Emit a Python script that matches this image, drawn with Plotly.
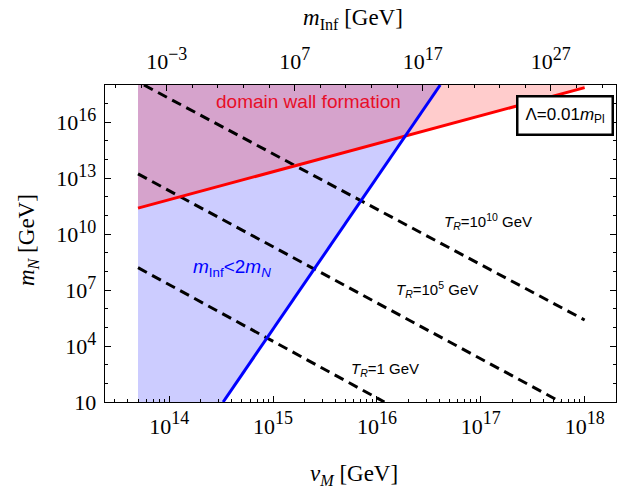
import plotly.graph_objects as go

# ---------------- data ----------------
# plot frame in log10 units
x_range_log = [13.381, 18.302]      # v_M
y_range_log = [1.0, 18.0]           # m_N
x2_range_log = [-7.82, 32.09]       # m_Inf (top axis)

# domain wall formation boundary (red line)
red_v = [5e13, 1e18]
red_m = [2.5e11, 7.2e17]

# m_Inf = 2 m_N boundary (blue line)
blue_v = [3.3e14, 4.07e16]
blue_m = [10.0, 1e18]

# left edge of the shaded regions
v_min_shade = 5e13
m_top = 1e18
m_bottom = 10.0

# T_R dashed lines: endpoints
tr1_v = [5e13, 1.18e16]
tr1_m = [1.6e8, 10.0]
tr5_v = [5e13, 5.9e17]
tr5_m = [1.7e13, 10.0]
tr10_v = [5.7e13, 1e18]
tr10_m = [1e18, 2.5e5]

x_tick_vals = [1e14, 1e15, 1e16, 1e17, 1e18]
x_tick_exp = ["14", "15", "16", "17", "18"]
y_tick_vals = [1e1, 1e4, 1e7, 1e10, 1e13, 1e16]
y_tick_exp = ["", "4", "7", "10", "13", "16"]
x2_tick_vals = [1e-3, 1e7, 1e17, 1e27]
x2_tick_exp = ["-3", "7", "17", "27"]

# ---------------- figure ----------------
W, H = 621, 493
L, R, T, B = 105, 5, 85, 91

SERIF = "Liberation Serif, Times New Roman, serif"
SANS = "Liberation Sans, Arial, sans-serif"


def pow_label(e, sup=18):
    if e == "":
        return "10"
    e = e.replace("-", "\u2212")
    return f"10<sup><span style='font-size:{sup}px'>{e}</span></sup>"


def px_x(px):
    return (px - L) / (W - L - R)


def px_y(py):
    return (H - B - py) / (H - T - B)


fig = go.Figure()

# blue region: m_Inf < 2 m_N (left of the blue line)
fig.add_trace(go.Scatter(
    x=[v_min_shade, blue_v[0], blue_v[1], v_min_shade, v_min_shade],
    y=[m_bottom, blue_m[0], blue_m[1], m_top, m_bottom],
    fill="toself", fillcolor="rgba(0,0,255,0.2)", mode="none",
    hoverinfo="skip", showlegend=False))

# red region: above the red line
fig.add_trace(go.Scatter(
    x=[red_v[0], red_v[1], red_v[1], red_v[0], red_v[0]],
    y=[red_m[0], red_m[1], m_top, m_top, red_m[0]],
    fill="toself", fillcolor="rgba(255,0,0,0.2)", mode="none",
    hoverinfo="skip", showlegend=False))

# dashed T_R lines
for xs, ys in [(tr1_v, tr1_m), (tr5_v, tr5_m), (tr10_v, tr10_m)]:
    fig.add_trace(go.Scatter(
        x=xs, y=ys, mode="lines",
        line=dict(color="black", width=3, dash="10px,6px"),
        hoverinfo="skip", showlegend=False))

# red and blue boundary lines
fig.add_trace(go.Scatter(x=red_v, y=red_m, mode="lines",
                         line=dict(color="rgb(255,0,0)", width=3),
                         hoverinfo="skip", showlegend=False))
fig.add_trace(go.Scatter(x=blue_v, y=blue_m, mode="lines",
                         line=dict(color="rgb(0,0,255)", width=3),
                         hoverinfo="skip", showlegend=False))

# invisible trace to carry the top axis
fig.add_trace(go.Scatter(x=[1e5], y=[1e5], xaxis="x2", mode="markers",
                         marker=dict(opacity=0), hoverinfo="skip",
                         showlegend=False))

x_minor = [k * 10 ** n for n in range(13, 19) for k in range(2, 10)]
y_minor = [10 ** n for n in range(1, 19) if n % 3 != 1]
x2_minor = [10.0 ** n for n in range(-7, 33, 2)]

axis_common = dict(showgrid=False, zeroline=False, showline=True,
                   linecolor="black", linewidth=1.3, ticks="inside",
                   tickcolor="black", tickwidth=1, ticklen=6,
                   tickfont=dict(family=SERIF, size=22, color="black"))

fig.update_layout(
    width=W, height=H,
    margin=dict(l=L, r=R, t=T, b=B),
    paper_bgcolor="white", plot_bgcolor="white",
    hovermode=False,
    xaxis=dict(type="log", range=x_range_log, tickmode="array",
               tickvals=x_tick_vals,
               ticktext=[pow_label(e) for e in x_tick_exp],
               minor=dict(tickmode="array", tickvals=x_minor, ticks="inside",
                          ticklen=3, tickcolor="black", tickwidth=1),
               mirror=False, ticklabelstandoff=4, **axis_common),
    xaxis2=dict(type="log", range=x2_range_log, overlaying="x", side="top",
                tickmode="array", tickvals=x2_tick_vals,
                ticktext=[pow_label(e) for e in x2_tick_exp],
                minor=dict(tickmode="array", tickvals=x2_minor, ticks="inside",
                           ticklen=3, tickcolor="black", tickwidth=1),
                anchor="y", ticklabelstandoff=6, **axis_common),
    yaxis=dict(type="log", range=y_range_log, tickmode="array",
               tickvals=y_tick_vals,
               ticktext=[pow_label(e) for e in y_tick_exp],
               minor=dict(tickmode="array", tickvals=y_minor, ticks="inside",
                          ticklen=3, tickcolor="black", tickwidth=1),
               mirror="ticks", ticklabelstandoff=3, **axis_common),
)

ann = []
common_anchor = dict(xanchor="center", yanchor="middle", showarrow=False)
# axis titles
ann.append(dict(xref="paper", yref="paper", x=px_x(354), y=px_y(475),
                text="<i>v</i><sub><i>M</i></sub> [GeV]",
                font=dict(family=SERIF, size=23, color="black"),
                **common_anchor))
ann.append(dict(xref="paper", yref="paper", x=px_x(353), y=px_y(19),
                text="<i>m</i><sub>Inf</sub> [GeV]",
                font=dict(family=SERIF, size=23, color="black"),
                **common_anchor))
ann.append(dict(xref="paper", yref="paper", x=px_x(28), y=px_y(240),
                textangle=-90,
                text="<i>m</i><sub><i>N</i></sub> [GeV]",
                font=dict(family=SERIF, size=23, color="black"),
                **common_anchor))

# in-plot labels (x, y in log10 units)
ann.append(dict(x=15.338, y=17.105, text="domain wall formation",
                font=dict(family=SANS, size=19, color="rgb(232,14,40)"),
                **common_anchor))
ann.append(dict(x=14.603, y=8.19,
                text="<i>m</i><sub>Inf</sub>&lt;2<i>m</i><sub><i>N</i></sub>",
                font=dict(family=SANS, size=19, color="rgb(0,0,255)"),
                **common_anchor))
ann.append(dict(x=17.07, y=10.67,
                text="<i>T</i><sub><i>R</i></sub>=10<sup>10</sup> GeV",
                font=dict(family=SANS, size=15, color="black"),
                **common_anchor))
ann.append(dict(x=16.576, y=7.01,
                text="<i>T</i><sub><i>R</i></sub>=10<sup>5</sup> GeV",
                font=dict(family=SANS, size=15, color="black"),
                **common_anchor))
ann.append(dict(x=16.079, y=2.72,
                text="<i>T</i><sub><i>R</i></sub>=1 GeV",
                font=dict(family=SANS, size=15, color="black"),
                **common_anchor))
# Lambda box
ann.append(dict(xref="paper", yref="paper", x=px_x(564.5), y=px_y(116),
                text="\u039b=0.01<i>m</i><sub>Pl</sub>",
                bordercolor="black", borderwidth=2.5, borderpad=7,
                bgcolor="white",
                font=dict(family=SANS, size=17, color="black"),
                **common_anchor))

fig.update_layout(annotations=ann)

# remove the default page margin so the figure sits at the window's origin
fig.write_html("out.html",
               config={"displayModeBar": False, "staticPlot": True},
               post_script="document.body.style.margin='0px';"
                           "document.body.style.overflow='hidden';")
